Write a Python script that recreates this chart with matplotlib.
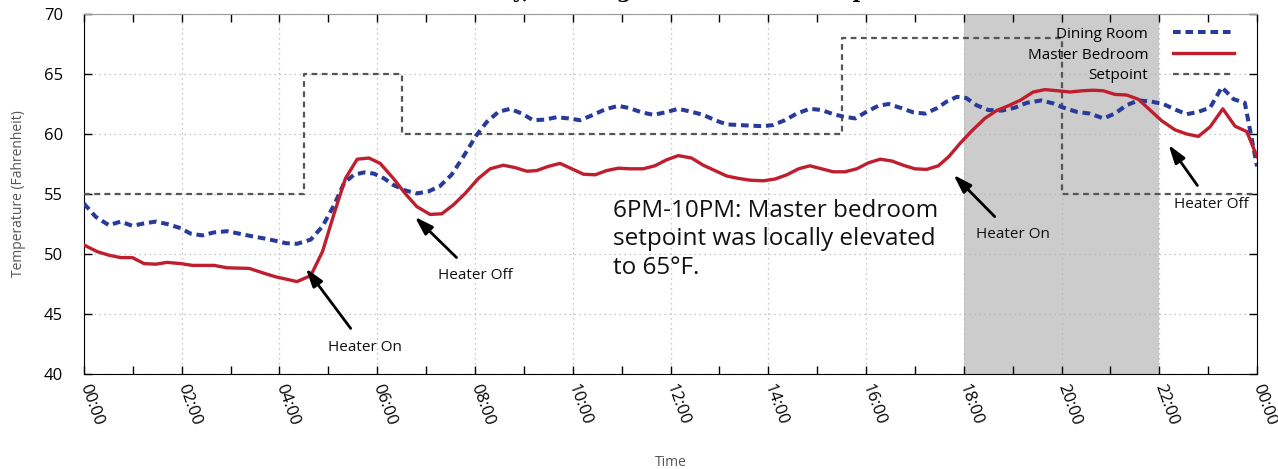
import matplotlib
matplotlib.use('Agg')
import matplotlib.pyplot as plt
from matplotlib.ticker import MultipleLocator, FuncFormatter

plt.rcParams['font.family'] = ['Open Sans', 'DejaVu Sans']

# hours since midnight
hours_bed = [0, 0.27, 0.51, 0.75, 0.99, 1.23, 1.47, 1.70, 1.98, 2.22, 2.66, 2.93, 3.38, 3.68, 3.92,
             4.36, 4.64, 4.88, 5.12, 5.35, 5.59, 5.83, 6.06, 6.33, 6.57, 6.81, 7.08, 7.32, 7.56, 7.80,
             8.07, 8.31, 8.58, 8.82, 9.06, 9.26, 9.50, 9.74, 9.98, 10.22, 10.46, 10.69, 10.93, 11.17,
             11.44, 11.68, 11.92, 12.16, 12.43, 12.67, 12.91, 13.15, 13.39, 13.63, 13.90, 14.14, 14.38,
             14.62, 14.85, 15.09, 15.33, 15.57, 15.81, 16.05, 16.29, 16.53, 16.76, 17.00, 17.24, 17.48,
             17.69, 17.92, 18.15, 18.43, 18.67, 18.91, 19.15, 19.42, 19.66, 19.93, 20.17, 20.41, 20.65,
             20.86, 21.09, 21.33, 21.57, 21.81, 22.05, 22.32, 22.56, 22.80, 23.04, 23.30, 23.55, 23.79, 24.0]
master_bedroom = [50.75, 50.2, 49.9, 49.7, 49.7, 49.2, 49.15, 49.3, 49.2, 49.05, 49.05, 48.85, 48.8, 48.4, 48.1,
                  47.7, 48.2, 50.2, 53.4, 56.3, 57.9, 58.0, 57.55, 56.3, 55.05, 53.95, 53.3, 53.35, 54.1, 55.05,
                  56.3, 57.1, 57.4, 57.2, 56.9, 56.95, 57.3, 57.55, 57.1, 56.65, 56.6, 56.95, 57.15, 57.1,
                  57.1, 57.35, 57.85, 58.2, 58.0, 57.4, 56.95, 56.5, 56.3, 56.15, 56.1, 56.25, 56.6,
                  57.1, 57.35, 57.1, 56.85, 56.85, 57.1, 57.6, 57.9, 57.75, 57.4, 57.1, 57.05, 57.35,
                  58.1, 59.2, 60.2, 61.3, 61.95, 62.35, 62.8, 63.5, 63.7, 63.6, 63.5, 63.6, 63.65,
                  63.6, 63.3, 63.25, 62.9, 62.0, 61.1, 60.35, 60.0, 59.8, 60.6, 62.1, 60.65, 60.2, 58.1]

hours_din = [0, 0.24, 0.51, 0.75, 0.99, 1.23, 1.47, 1.70, 1.98, 2.18, 2.42, 2.66, 2.93, 3.17, 3.41,
             3.68, 3.92, 4.13, 4.36, 4.64, 4.88, 5.12, 5.32, 5.52, 5.73, 5.93, 6.14, 6.33, 6.57, 6.81,
             7.04, 7.28, 7.52, 7.76, 8.03, 8.24, 8.48, 8.72, 8.96, 9.19, 9.43, 9.67, 9.91, 10.15, 10.42,
             10.66, 10.93, 11.17, 11.41, 11.65, 11.89, 12.16, 12.43, 12.67, 12.91, 13.15, 13.39, 13.63,
             13.90, 14.10, 14.34, 14.58, 14.85, 15.09, 15.33, 15.54, 15.78, 16.01, 16.25, 16.46, 16.73,
             16.97, 17.21, 17.45, 17.65, 17.86, 18.05, 18.26, 18.50, 18.78, 19.05, 19.29, 19.59, 19.83,
             20.04, 20.31, 20.58, 20.86, 21.09, 21.33, 21.57, 21.84, 22.08, 22.32, 22.56, 22.80, 23.04,
             23.28, 23.52, 23.75, 24.0]
dining_room = [54.2, 53.1, 52.4, 52.7, 52.35, 52.55, 52.7, 52.5, 52.15, 51.7, 51.55, 51.8, 51.9, 51.7, 51.5,
               51.3, 51.1, 50.9, 50.85, 51.2, 52.3, 54.1, 55.9, 56.6, 56.8, 56.7, 56.3, 55.75, 55.3, 55.05,
               55.2, 55.65, 56.6, 58.1, 59.9, 61.0, 61.85, 62.1, 61.7, 61.15, 61.2, 61.4, 61.3, 61.15, 61.6,
               62.05, 62.35, 62.15, 61.8, 61.6, 61.8, 62.1, 61.85, 61.6, 61.15, 60.8, 60.75, 60.7,
               60.65, 60.75, 61.15, 61.7, 62.1, 62.0, 61.65, 61.45, 61.3, 61.85, 62.35, 62.5, 62.15,
               61.8, 61.7, 62.15, 62.7, 63.1, 63.0, 62.4, 62.0, 61.95, 62.2, 62.6, 62.8, 62.55,
               62.2, 61.85, 61.7, 61.3, 61.7, 62.4, 62.8, 62.7, 62.5, 62.05, 61.65, 61.85, 62.2,
               63.9, 62.9, 62.6, 57.3]

setpoint_hours = [0, 4.5, 6.5, 15.5, 20, 24]
setpoint = [55, 65, 60, 68, 55, 55]

override_start, override_end = 18, 22

# (label, arrow tip, text position)
annotations = [
    ('Heater On', (4.54, 48.8), (5.75, 42.2)),
    ('Heater Off', (6.77, 53.1), (8.0, 48.2)),
    ('Heater On', (17.79, 56.6), (19.0, 51.6)),
    ('Heater Off', (22.19, 59.1), (23.06, 54.1)),
]

fig = plt.figure(figsize=(12.78, 4.69), dpi=100)
ax = fig.add_axes([0.0657, 0.2026, 0.9179, 0.7675])

ax.axvspan(override_start, override_end, color='#cccccc', lw=0, zorder=0)
ax.grid(True, which='major', color='#b5b5b5', linestyle=(0, (1, 3)), linewidth=0.9, zorder=1)

ax.plot(hours_din, dining_room, color='#283a9a', lw=2.9, dashes=(1.9, 1.2), label='Dining Room', zorder=4)
ax.plot(hours_bed, master_bedroom, color='#bf1e2e', lw=2.4, label='Master Bedroom', zorder=5)
ax.plot(setpoint_hours, setpoint, color='#555555', lw=1.6, dashes=(2.6, 2.0), drawstyle='steps-post',
        label='Setpoint', zorder=3)

for label, tip, pos in annotations:
    ax.annotate(label, xy=tip, xytext=pos, fontsize=11, ha='center', va='center', color='#111111',
                arrowprops=dict(arrowstyle='-|>,head_length=1.0,head_width=0.32', color='black', lw=2.0,
                                shrinkA=8, shrinkB=0), zorder=6)

ax.text(10.82, 54.6, '6PM-10PM: Master bedroom\nsetpoint was locally elevated\nto 65°F.',
        fontsize=17.5, ha='left', va='top', linespacing=1.25, color='#111111', zorder=6)

ax.set_xlim(0, 24)
ax.set_ylim(40, 70)
ax.xaxis.set_major_locator(MultipleLocator(2))
ax.xaxis.set_minor_locator(MultipleLocator(1))
ax.xaxis.set_major_formatter(FuncFormatter(lambda v, p: '%02d:00' % (int(round(v)) % 24)))
ax.yaxis.set_major_locator(MultipleLocator(5))
ax.tick_params(axis='both', which='both', direction='in', top=True, right=True, labelsize=12)
ax.tick_params(axis='both', which='major', length=6, width=1)
ax.tick_params(axis='x', which='minor', length=6, width=1)
ax.tick_params(axis='y', pad=15)
ax.tick_params(axis='x', pad=8)
for t in ax.get_xticklabels():
    t.set_rotation(-70)
    t.set_ha('left')
    t.set_va('center')
    t.set_rotation_mode('anchor')
ax.spines['top'].set_color('#999999')

ax.set_ylabel('Temperature (Fahrenheit)', fontsize=10, color='#555555', labelpad=13)
ax.set_xlabel('Time', fontsize=10, color='#555555', labelpad=19)

leg = ax.legend(loc='upper right', bbox_to_anchor=(0.988, 0.99), markerfirst=False, frameon=False,
                fontsize=11, handlelength=4.0, handletextpad=1.6, labelspacing=0.38, borderaxespad=0.2)

# title sits above the canvas: only its descenders show, as in the source figure
fig.text(0.545, 1.005, 'Sunday, Heating Schedule and Temperature', ha='center', va='baseline',
         family='DejaVu Serif', weight='bold', fontsize=15)

fig.savefig('out.png', dpi=100)
